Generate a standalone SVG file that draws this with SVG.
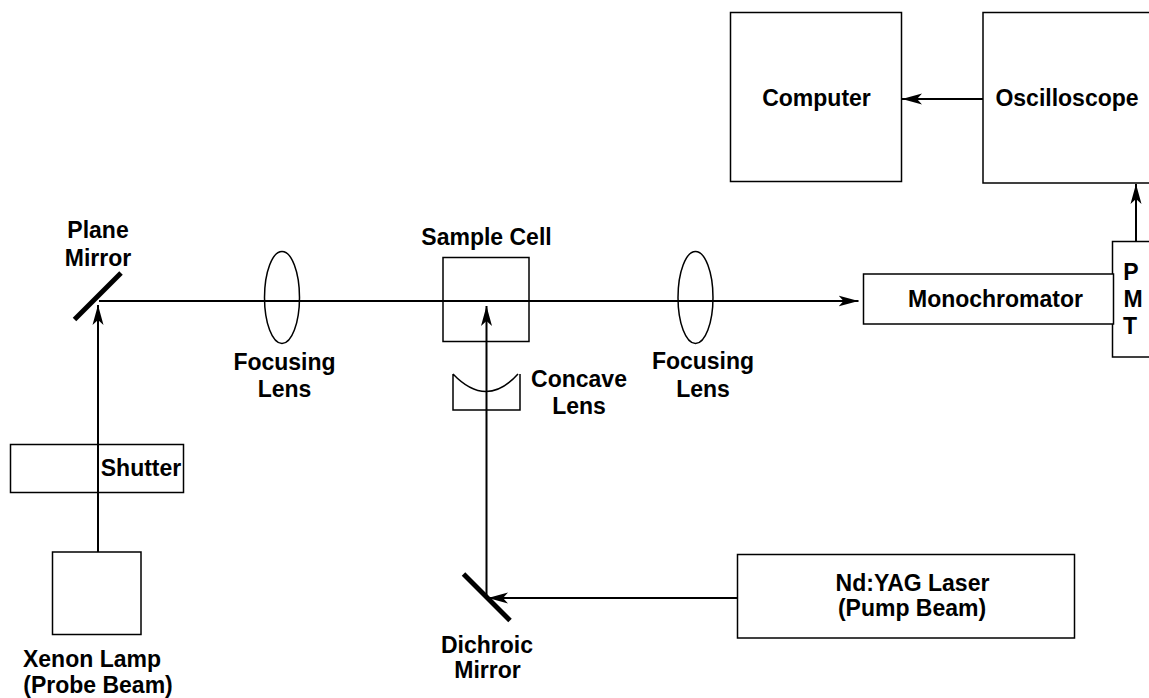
<svg xmlns="http://www.w3.org/2000/svg" width="1149" height="698" viewBox="0 0 1149 698">
<style>
.b{fill:#fff;stroke:#000;stroke-width:1.5}
.o{fill:none;stroke:#000;stroke-width:1.5}
.c{fill:none;stroke:#000;stroke-width:2}
.m{fill:none;stroke:#000;stroke-width:5}
text{font-family:"Liberation Sans",Arial,sans-serif;font-weight:bold;font-size:23px;fill:#000;text-anchor:middle}
</style>
<defs>
<marker id="a" markerUnits="userSpaceOnUse" markerWidth="20" markerHeight="12" refX="20" refY="6" orient="auto"><path d="M0 .5L20 6L0 11.500L5 6Z" fill="#000"/></marker>
</defs>
<rect width="1149" height="698" fill="#fff"/>
<g id="computer"><rect class="b" x="730.500" y="12.500" width="171" height="169"/><text x="816.500" y="106">Computer</text></g>
<g id="oscilloscope"><rect class="b" x="983" y="12.500" width="177" height="170.500"/><text x="1067" y="106">Oscilloscope</text></g>
<g id="pmt"><rect class="b" x="1112.500" y="241.500" width="48" height="115.500"/><text x="1131" y="280">P</text><text x="1133" y="307">M</text><text x="1130" y="334">T</text></g>
<g id="monochromator"><rect class="b" x="863.500" y="274" width="250" height="50"/><text x="995.500" y="306.500">Monochromator</text></g>
<g id="sample-cell"><rect class="b" x="443" y="257.500" width="86" height="84"/><text x="486.500" y="245">Sample Cell</text></g>
<g id="lens1"><ellipse class="o" cx="282" cy="297.500" rx="17.500" ry="46"/><text x="284.500" y="370">Focusing</text><text x="284.500" y="397">Lens</text></g>
<g id="lens2"><ellipse class="o" cx="695.500" cy="297.500" rx="17.500" ry="46"/><text x="703" y="369">Focusing</text><text x="703" y="397">Lens</text></g>
<g id="concave-lens"><path class="o" d="M453 374V410H520V374M453 374Q486.500 409 518 374"/><text x="579" y="387">Concave</text><text x="579" y="414">Lens</text></g>
<g id="plane-mirror"><path class="m" d="M74.500 319.500L121 273"/><text x="98" y="238">Plane</text><text x="98" y="266">Mirror</text></g>
<g id="shutter"><rect class="b" x="10.500" y="444.500" width="173" height="48"/><text x="141" y="476">Shutter</text></g>
<g id="xenon-lamp"><rect class="b" x="52.500" y="552" width="88.500" height="82.500"/><text x="92" y="667">Xenon Lamp</text><text x="98" y="693">(Probe Beam)</text></g>
<g id="dichroic-mirror"><path class="m" d="M463.500 574L510 620.500"/><text x="487" y="653">Dichroic</text><text x="487.500" y="678">Mirror</text></g>
<g id="laser"><rect class="b" x="737.500" y="554.500" width="337" height="83.500"/><text x="912.500" y="591">Nd:YAG Laser</text><text x="912" y="616">(Pump Beam)</text></g>
<g id="connectors">
<path class="c" d="M98 552V305" marker-end="url(#a)"/>
<path class="c" d="M99 301H858.500" marker-end="url(#a)"/>
<path class="c" d="M486.500 597V306" marker-end="url(#a)"/>
<path class="c" d="M737 598H488" marker-end="url(#a)"/>
<path class="c" d="M983 99H902" marker-end="url(#a)"/>
<path class="c" d="M1136 241V184" marker-end="url(#a)"/>
</g>
</svg>
